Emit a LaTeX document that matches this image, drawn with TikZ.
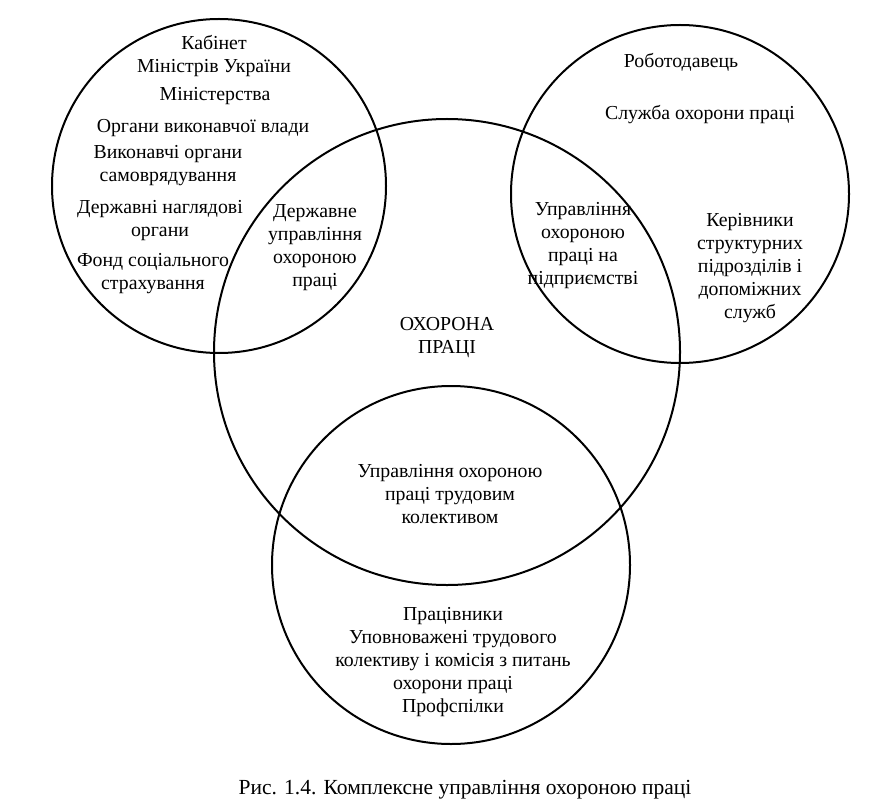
\documentclass[tikz,border=0pt]{standalone}
\usepackage{fontspec}
\setmainfont{Liberation Serif}
\usetikzlibrary{calc}

\tikzset{
  ring/.style={line width=2pt,draw=black},
  lbl/.style={align=center,inner sep=0pt,font=\fontsize{19.8}{23}\selectfont},
}

\begin{document}
\begin{tikzpicture}[x=1pt,y=-1pt]
\useasboundingbox (0,0) rectangle (888,802);

\coordinate (L) at (219,186);
\coordinate (R) at (680,194);
\coordinate (M) at (447,352);
\coordinate (B) at (451,565);

\draw[ring] (L) circle (167);
\draw[ring] (R) circle (169);
\draw[ring] (M) circle (233);
\draw[ring] (B) circle (179);

% state
\node[lbl] (kab) at (214,56) {Кабінет\\Міністрів України};
\node[lbl] (min) at (215,96) {Міністерства};
\node[lbl] (org) at (203,128) {Органи виконавчої влади};
\node[lbl] (vik) at (168,166) {Виконавчі органи\\самоврядування};
\node[lbl] (nag) at (160,221) {Державні наглядові\\органи};
\node[lbl] (fond) at (153,274) {Фонд соціального\\страхування};
\node[lbl] (dup) at (315,248) {Державне\\управління\\охороною\\праці};

% enterprise
\node[lbl] (rob) at (681,62) {Роботодавець};
\node[lbl] (sl) at (700,115) {Служба охорони праці};
\node[lbl] (upp) at (583,246) {Управління\\охороною\\праці на\\підприємстві};
\node[lbl] (ker) at (750,268) {Керівники\\структурних\\підрозділів і\\допоміжних\\служб};

% centre and collective
\node[lbl] (op) at (447,338) {ОХОРОНА\\ПРАЦІ};
\node[lbl] (utk) at (450,494) {Управління охороною\\праці трудовим\\колективом};
\node[lbl] (prac) at (453,662) {Працівники\\Уповноважені трудового\\колективу і комісія з питань\\охорони праці\\Профспілки};

\node[lbl,font=\fontsize{21.5}{25}\selectfont] (cap) at (465,790) {Рис. 1.4. Комплексне управління охороною праці};
\end{tikzpicture}
\end{document}
